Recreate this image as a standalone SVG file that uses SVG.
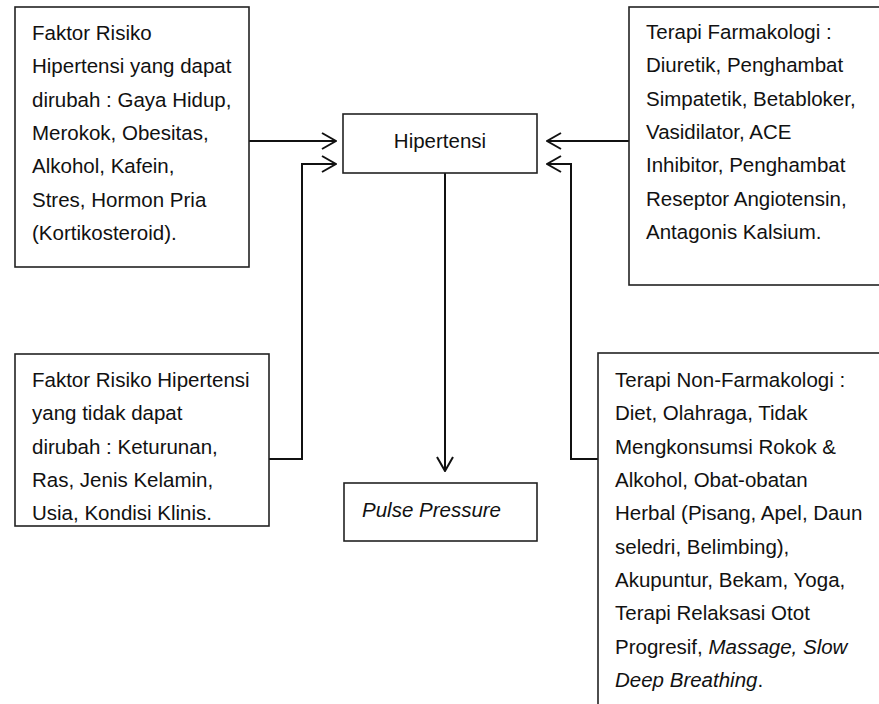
<svg xmlns="http://www.w3.org/2000/svg" width="879" height="704" viewBox="0 0 879 704">
<defs>
<marker id="ah" viewBox="0 0 16 18" refX="15" refY="9" markerWidth="16" markerHeight="18" markerUnits="userSpaceOnUse" orient="auto">
<path d="M1,1 L15,9 L1,17" fill="none" stroke="#111" stroke-width="2"/>
</marker>
<style>
.box{fill:#fff;stroke:#222;stroke-width:1.6}
.t{font-family:"Liberation Sans",Arial,sans-serif;font-size:20.5px;fill:#111}
.i{font-style:italic}
.c{fill:none;stroke:#111;stroke-width:2}
</style>
</defs>
<rect width="879" height="704" fill="#fff"/>
<g id="connectors">
<path class="c" d="M249,141 H336" marker-end="url(#ah)"/>
<path class="c" d="M269,459 H302 V164 H336" marker-end="url(#ah)"/>
<path class="c" d="M629,141 H547" marker-end="url(#ah)"/>
<path class="c" d="M598,459 H571 V164 H547" marker-end="url(#ah)"/>
<path class="c" d="M445,173 V471" marker-end="url(#ah)"/>
</g>
<g id="node-faktor-dapat">
<rect class="box" x="15" y="7" width="234" height="260"/>
<text class="t" x="32" y="40">Faktor Risiko</text>
<text class="t" x="32" y="73">Hipertensi yang dapat</text>
<text class="t" x="32" y="107">dirubah : Gaya Hidup,</text>
<text class="t" x="32" y="140">Merokok, Obesitas,</text>
<text class="t" x="32" y="173">Alkohol, Kafein,</text>
<text class="t" x="32" y="207">Stres, Hormon Pria</text>
<text class="t" x="32" y="240">(Kortikosteroid).</text>
</g>
<g id="node-hipertensi">
<rect class="box" x="343" y="114" width="194" height="59"/>
<text class="t" x="440" y="148" text-anchor="middle">Hipertensi</text>
</g>
<g id="node-farmakologi">
<rect class="box" x="629" y="7" width="270" height="278"/>
<text class="t" x="646" y="39">Terapi Farmakologi :</text>
<text class="t" x="646" y="72">Diuretik, Penghambat</text>
<text class="t" x="646" y="106">Simpatetik, Betabloker,</text>
<text class="t" x="646" y="139">Vasidilator, ACE</text>
<text class="t" x="646" y="172">Inhibitor, Penghambat</text>
<text class="t" x="646" y="206">Reseptor Angiotensin,</text>
<text class="t" x="646" y="239">Antagonis Kalsium.</text>
</g>
<g id="node-faktor-tidak">
<rect class="box" x="15" y="354" width="254" height="172"/>
<text class="t" x="32" y="387">Faktor Risiko Hipertensi</text>
<text class="t" x="32" y="420">yang tidak dapat</text>
<text class="t" x="32" y="454">dirubah : Keturunan,</text>
<text class="t" x="32" y="487">Ras, Jenis Kelamin,</text>
<text class="t" x="32" y="520">Usia, Kondisi Klinis.</text>
</g>
<g id="node-pulse">
<rect class="box" x="344" y="483" width="193" height="58"/>
<text class="t i" x="362" y="517">Pulse Pressure</text>
</g>
<g id="node-nonfarmakologi">
<rect class="box" x="598" y="353" width="300" height="370"/>
<text class="t" x="615" y="387">Terapi Non-Farmakologi :</text>
<text class="t" x="615" y="420">Diet, Olahraga, Tidak</text>
<text class="t" x="615" y="454">Mengkonsumsi Rokok &amp;</text>
<text class="t" x="615" y="487">Alkohol, Obat-obatan</text>
<text class="t" x="615" y="520">Herbal (Pisang, Apel, Daun</text>
<text class="t" x="615" y="554">seledri, Belimbing),</text>
<text class="t" x="615" y="587">Akupuntur, Bekam, Yoga,</text>
<text class="t" x="615" y="620">Terapi Relaksasi Otot</text>
<text class="t" x="615" y="654">Progresif, <tspan class="i">Massage, Slow</tspan></text>
<text class="t" x="615" y="687"><tspan class="i">Deep Breathing</tspan>.</text>
</g>
</svg>
